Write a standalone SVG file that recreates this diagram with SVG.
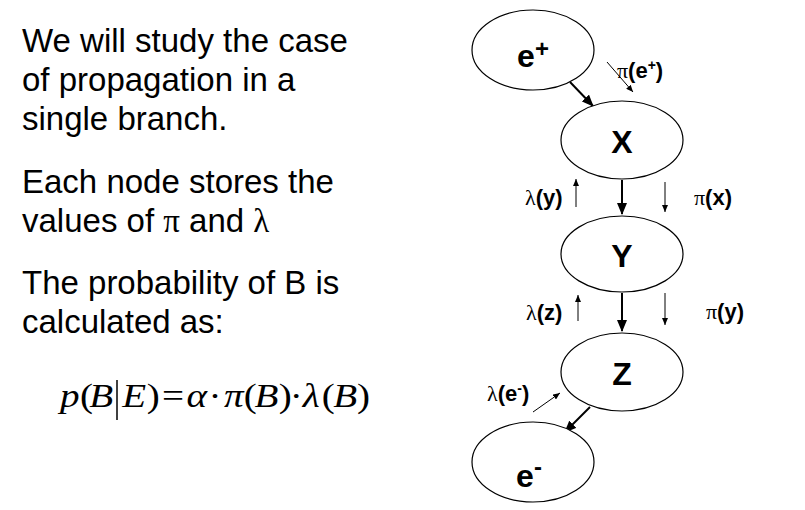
<svg xmlns="http://www.w3.org/2000/svg" width="805" height="510" viewBox="0 0 805 510">
<defs>
<style>
.body{font-family:"Liberation Sans",Arial,sans-serif;font-size:33px;fill:#000}
.math{font-family:"Liberation Serif","Times New Roman",serif;font-size:34px;fill:#000}
.it{font-style:italic}
.node{fill:#fff;stroke:#000;stroke-width:1.2}
.nl{font-family:"Liberation Sans",Arial,sans-serif;font-weight:bold;font-size:32px;fill:#000;text-anchor:middle}
.lab{font-family:"Liberation Sans",Arial,sans-serif;font-weight:bold;font-size:22px;fill:#000}
.gr{font-family:"Liberation Serif","Times New Roman",serif;font-weight:normal}
.main{stroke:#000;stroke-width:2;fill:none}
.thin{stroke:#000;stroke-width:1;fill:none}
</style>
<marker id="big" viewBox="0 0 12 10" refX="11" refY="5" markerWidth="12" markerHeight="10" markerUnits="userSpaceOnUse" orient="auto">
<path d="M0,0 L12,5 L0,10 z" fill="#000"/>
</marker>
<marker id="small" viewBox="0 0 7 6" refX="7" refY="3" markerWidth="7" markerHeight="6" markerUnits="userSpaceOnUse" orient="auto">
<path d="M0,0 L7,3 L0,6 z" fill="#000"/>
</marker>
</defs>
<rect width="805" height="510" fill="#fff"/>

<g id="text-left">
<text class="body" x="22" y="52">We will study the case</text>
<text class="body" x="22" y="91">of propagation in a</text>
<text class="body" x="22" y="130">single branch.</text>
<text class="body" x="22" y="193">Each node stores the</text>
<text class="body" x="22" y="232">values of <tspan class="gr">π</tspan> and <tspan class="gr">λ</tspan></text>
<text class="body" x="22" y="294">The probability of B is</text>
<text class="body" x="22" y="333">calculated as:</text>
</g>

<g id="formula">
<g transform="scale(1.15 1)">
<text class="math" y="407"><tspan class="it" x="52.2">p</tspan><tspan x="69.6">(</tspan><tspan class="it" x="77.6">B</tspan><tspan class="it" x="106.4">E</tspan><tspan x="127.7">)</tspan><tspan x="140.8">=</tspan><tspan class="it" x="162.2">α</tspan><tspan x="181.4">·</tspan><tspan class="it" x="194.8">π</tspan><tspan x="212">(</tspan><tspan class="it" x="221.3">B</tspan><tspan x="242.5">)</tspan><tspan x="252">·</tspan><tspan class="it" x="263.2">λ</tspan><tspan x="279.8">(</tspan><tspan class="it" x="289.8">B</tspan><tspan x="310.4">)</tspan></text>
</g>
<line x1="117" y1="380" x2="117" y2="420" stroke="#000" stroke-width="1.5"/>
</g>

<g id="connectors">
<line class="main" x1="570" y1="82" x2="593" y2="106" marker-end="url(#big)"/>
<line class="main" x1="622" y1="180" x2="622" y2="214" marker-end="url(#big)"/>
<line class="main" x1="622" y1="293" x2="622" y2="331" marker-end="url(#big)"/>
<line class="main" x1="590" y1="407" x2="565" y2="432" marker-end="url(#big)"/>
<line class="thin" x1="607" y1="62" x2="633" y2="92" marker-end="url(#small)"/>
<line class="thin" x1="576" y1="207" x2="576" y2="179" marker-end="url(#small)"/>
<line class="thin" x1="665" y1="182" x2="665" y2="212" marker-end="url(#small)"/>
<line class="thin" x1="578" y1="321" x2="578" y2="295" marker-end="url(#small)"/>
<line class="thin" x1="665" y1="293" x2="665" y2="325" marker-end="url(#small)"/>
<line class="thin" x1="533" y1="412" x2="560" y2="393" marker-end="url(#small)"/>
</g>

<g id="labels">
<text class="lab" x="617" y="78"><tspan class="gr">π</tspan>(e<tspan font-size="14" dy="-8">+</tspan><tspan dy="8">)</tspan></text>
<text class="lab" x="525" y="205"><tspan class="gr">λ</tspan>(y)</text>
<text class="lab" x="694" y="205"><tspan class="gr">π</tspan>(x)</text>
<text class="lab" x="526" y="320"><tspan class="gr">λ</tspan>(z)</text>
<text class="lab" x="706" y="319"><tspan class="gr">π</tspan>(y)</text>
<text class="lab" x="487" y="401"><tspan class="gr">λ</tspan>(e<tspan font-size="14" dy="-8">-</tspan><tspan dy="8">)</tspan></text>
</g>

<g id="node-eplus">
<ellipse class="node" cx="533" cy="50" rx="61" ry="40"/>
<text class="nl" x="533" y="67" font-size="38">e<tspan font-size="24" dy="-10">+</tspan></text>
</g>
<g id="node-X">
<ellipse class="node" cx="622" cy="140" rx="61" ry="39"/>
<text class="nl" x="622" y="153">X</text>
</g>
<g id="node-Y">
<ellipse class="node" cx="622" cy="254" rx="61" ry="38"/>
<text class="nl" x="622" y="267">Y</text>
</g>
<g id="node-Z">
<ellipse class="node" cx="622" cy="372" rx="61" ry="39"/>
<text class="nl" x="622" y="385">Z</text>
</g>
<g id="node-eminus">
<ellipse class="node" cx="533" cy="462" rx="61" ry="40"/>
<text class="nl" x="529" y="487" font-size="38">e<tspan font-size="24" dy="-12">-</tspan></text>
</g>
</svg>
